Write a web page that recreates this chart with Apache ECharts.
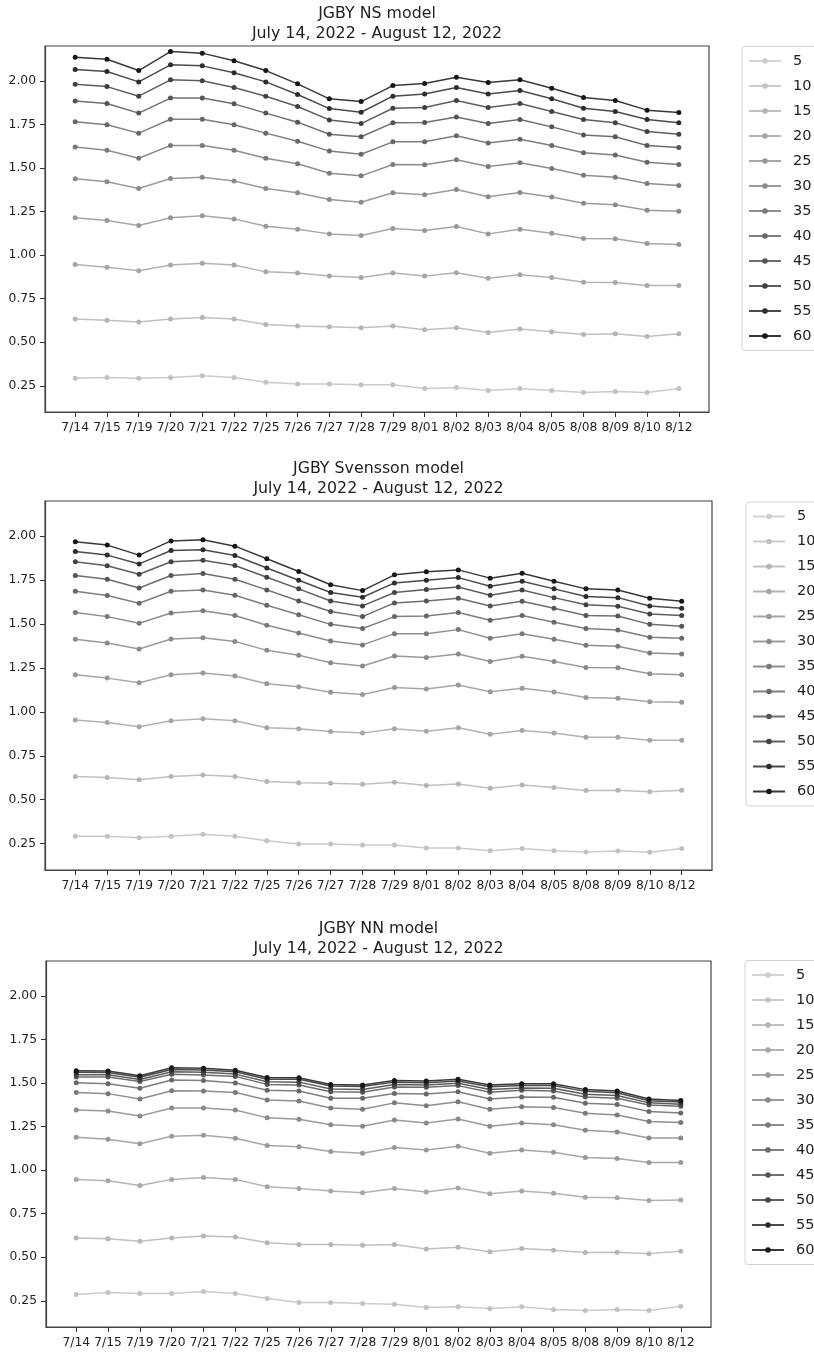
<!DOCTYPE html>
<html><head><meta charset="utf-8">
<script src="https://cdn.jsdelivr.net/npm/echarts@6/dist/echarts.min.js"></script>
<style>html,body{margin:0;padding:0;background:#fff}#c{width:814px;height:1352px}</style>
</head><body><div id="c"></div>
<script>
// ---- categories / ticks ----
const dates = ['7/14','7/15','7/19','7/20','7/21','7/22','7/25','7/26','7/27','7/28','7/29','8/01','8/02','8/03','8/04','8/05','8/08','8/09','8/10','8/12'];
const maturities = ['5','10','15','20','25','30','35','40','45','50','55','60'];
const yTicks = [0.25,0.50,0.75,1.00,1.25,1.50,1.75,2.00];
const titles = ['JGBY NS model','JGBY Svensson model','JGBY NN model'];
const subtitle = 'July 14, 2022 - August 12, 2022';

// ---- JGBY NS model (5-year line lies below the visible range) ----
const ns5  = [];
const ns10 = [0.294,0.298,0.294,0.298,0.308,0.298,0.271,0.260,0.260,0.256,0.256,0.235,0.241,0.224,0.235,0.224,0.212,0.218,0.212,0.235];
const ns15 = [0.633,0.627,0.616,0.633,0.642,0.633,0.602,0.593,0.589,0.583,0.593,0.572,0.583,0.556,0.576,0.560,0.545,0.549,0.533,0.549];
const ns20 = [0.946,0.931,0.910,0.943,0.954,0.943,0.904,0.897,0.881,0.872,0.897,0.880,0.899,0.868,0.887,0.872,0.845,0.843,0.826,0.826];
const ns25 = [1.214,1.199,1.170,1.214,1.226,1.208,1.166,1.149,1.122,1.113,1.153,1.141,1.164,1.122,1.149,1.126,1.096,1.094,1.067,1.061];
const ns30 = [1.438,1.421,1.382,1.440,1.447,1.426,1.382,1.358,1.319,1.304,1.358,1.346,1.377,1.335,1.359,1.333,1.298,1.289,1.258,1.252];
const ns35 = [1.620,1.602,1.556,1.629,1.629,1.602,1.556,1.524,1.470,1.455,1.520,1.518,1.547,1.509,1.530,1.497,1.459,1.447,1.411,1.400];
const ns40 = [1.765,1.748,1.700,1.780,1.780,1.748,1.700,1.654,1.597,1.579,1.650,1.650,1.685,1.644,1.665,1.629,1.587,1.574,1.533,1.520];
const ns45 = [1.885,1.870,1.815,1.901,1.901,1.868,1.815,1.763,1.694,1.679,1.759,1.761,1.793,1.755,1.778,1.736,1.690,1.679,1.629,1.618];
const ns50 = [1.981,1.967,1.912,2.006,2.000,1.962,1.912,1.853,1.776,1.755,1.843,1.847,1.887,1.847,1.870,1.824,1.778,1.759,1.709,1.694];
const ns55 = [2.065,2.054,1.994,2.092,2.086,2.046,1.994,1.922,1.841,1.820,1.912,1.924,1.962,1.924,1.945,1.897,1.843,1.824,1.778,1.759];
const ns60 = [2.136,2.124,2.059,2.168,2.159,2.115,2.059,1.983,1.897,1.881,1.973,1.985,2.021,1.990,2.006,1.958,1.904,1.887,1.832,1.818];

// ---- JGBY Svensson model ----
const sv5  = [];
const sv10 = [0.292,0.292,0.284,0.292,0.303,0.292,0.267,0.248,0.248,0.242,0.242,0.225,0.225,0.210,0.223,0.210,0.203,0.208,0.201,0.223];
const sv15 = [0.632,0.626,0.613,0.632,0.641,0.632,0.603,0.596,0.594,0.588,0.600,0.581,0.590,0.565,0.584,0.569,0.552,0.554,0.545,0.554];
const sv20 = [0.953,0.940,0.915,0.949,0.961,0.949,0.909,0.904,0.888,0.879,0.904,0.890,0.909,0.873,0.894,0.879,0.856,0.856,0.839,0.839];
const sv25 = [1.211,1.192,1.166,1.211,1.221,1.204,1.160,1.143,1.111,1.099,1.139,1.130,1.153,1.115,1.134,1.113,1.082,1.078,1.058,1.054];
const sv30 = [1.413,1.392,1.358,1.415,1.422,1.401,1.350,1.322,1.280,1.261,1.318,1.310,1.329,1.287,1.316,1.286,1.253,1.251,1.217,1.211];
const sv35 = [1.565,1.542,1.504,1.563,1.576,1.548,1.493,1.449,1.403,1.381,1.445,1.445,1.468,1.419,1.445,1.413,1.379,1.373,1.335,1.329];
const sv40 = [1.686,1.662,1.618,1.686,1.694,1.664,1.607,1.553,1.498,1.474,1.542,1.546,1.565,1.521,1.548,1.510,1.474,1.466,1.424,1.419];
const sv45 = [1.776,1.755,1.705,1.776,1.787,1.755,1.694,1.631,1.571,1.542,1.620,1.631,1.647,1.603,1.629,1.590,1.548,1.546,1.498,1.487];
const sv50 = [1.854,1.831,1.783,1.854,1.863,1.833,1.766,1.700,1.631,1.603,1.679,1.696,1.711,1.664,1.694,1.650,1.609,1.601,1.557,1.548];
const sv55 = [1.913,1.892,1.842,1.918,1.922,1.890,1.819,1.749,1.679,1.652,1.734,1.749,1.764,1.715,1.743,1.700,1.656,1.650,1.603,1.590];
const sv60 = [1.968,1.949,1.892,1.973,1.979,1.943,1.871,1.799,1.723,1.690,1.780,1.797,1.808,1.761,1.789,1.743,1.700,1.694,1.647,1.629];

// ---- JGBY NN model ----
const nn5  = [];
const nn10 = [0.286,0.298,0.292,0.292,0.303,0.292,0.263,0.240,0.240,0.235,0.231,0.212,0.216,0.206,0.216,0.200,0.195,0.200,0.195,0.219];
const nn15 = [0.611,0.607,0.592,0.611,0.622,0.616,0.584,0.574,0.574,0.569,0.574,0.548,0.557,0.532,0.550,0.540,0.527,0.529,0.521,0.534];
const nn20 = [0.947,0.939,0.912,0.947,0.958,0.947,0.905,0.895,0.880,0.870,0.895,0.874,0.897,0.864,0.880,0.868,0.844,0.842,0.826,0.828];
const nn25 = [1.189,1.177,1.151,1.195,1.200,1.183,1.141,1.134,1.107,1.097,1.130,1.116,1.137,1.097,1.116,1.103,1.073,1.067,1.044,1.044];
const nn30 = [1.345,1.340,1.311,1.357,1.357,1.345,1.300,1.292,1.260,1.252,1.288,1.271,1.294,1.252,1.271,1.261,1.229,1.219,1.185,1.185];
const nn35 = [1.445,1.439,1.408,1.456,1.454,1.445,1.403,1.397,1.357,1.349,1.386,1.370,1.393,1.349,1.364,1.359,1.326,1.317,1.279,1.273];
const nn40 = [1.502,1.496,1.470,1.517,1.515,1.500,1.458,1.454,1.413,1.412,1.440,1.437,1.450,1.408,1.420,1.418,1.384,1.376,1.336,1.328];
const nn45 = [1.535,1.534,1.508,1.550,1.546,1.538,1.492,1.489,1.450,1.447,1.477,1.475,1.485,1.447,1.458,1.454,1.420,1.412,1.374,1.366];
const nn50 = [1.548,1.547,1.520,1.564,1.561,1.551,1.507,1.505,1.466,1.463,1.491,1.488,1.499,1.463,1.472,1.470,1.436,1.428,1.386,1.378];
const nn55 = [1.561,1.560,1.533,1.578,1.575,1.564,1.522,1.521,1.483,1.480,1.505,1.501,1.512,1.479,1.486,1.486,1.452,1.444,1.398,1.391];
const nn60 = [1.570,1.569,1.542,1.587,1.584,1.573,1.531,1.530,1.492,1.489,1.514,1.511,1.522,1.489,1.496,1.496,1.462,1.454,1.408,1.400];

const panelData = [
  [ns5,ns10,ns15,ns20,ns25,ns30,ns35,ns40,ns45,ns50,ns55,ns60],
  [sv5,sv10,sv15,sv20,sv25,sv30,sv35,sv40,sv45,sv50,sv55,sv60],
  [nn5,nn10,nn15,nn20,nn25,nn30,nn35,nn40,nn45,nn50,nn55,nn60]
];

// ---- styles / layout ----
const colors = ['#cdcdcd','#c2c2c2','#b5b5b5','#a6a6a6','#989898','#8a8a8a','#7a7a7a','#686868','#565656','#424242','#2c2c2c','#161616'];
const layout = [
  {left:45, top:46,  width:664, height:366, legendLeft:742, legendTop:46.5, titleTop:3.5},
  {left:45, top:501, width:667, height:369, legendLeft:746, legendTop:502,  titleTop:459},
  {left:46, top:961, width:665, height:366, legendLeft:745, legendTop:960.5, titleTop:918.5}
];
const FONT = 'DejaVu Sans';
const xIdx = dates.map((d,i)=>i);

const option = {
  animation:false,
  backgroundColor:'#fff',
  title: layout.map((L,pi)=>({
    text: titles[pi] + '\n' + subtitle,
    left: L.left + L.width/2, top: L.titleTop, textAlign:'center', padding:0,
    textStyle:{fontFamily:FONT, fontSize:15.8, fontWeight:'normal', color:'#222', lineHeight:20}
  })),
  legend: layout.map((L,pi)=>({
    data: maturities, orient:'vertical', left:L.legendLeft, top:L.legendTop,
    itemWidth:32, itemHeight:7, itemGap:8, padding:[6,30,6,6],
    borderColor:'#d4d4d4', borderWidth:1, borderRadius:3, backgroundColor:'#fff',
    textStyle:{fontFamily:FONT, fontSize:14.5, color:'#222', lineHeight:17, padding:[0,0,0,7]},
    selectedMode:false
  })),
  grid: layout.map(L=>({left:L.left, top:L.top, width:L.width, height:L.height, show:true, borderColor:'#444', borderWidth:1.2, backgroundColor:'transparent'})),
  xAxis: layout.map((L,pi)=>({
    type:'value', gridIndex:pi, min:-0.95, max:19.95, position:'bottom',
    splitLine:{show:false},
    axisLine:{show:true, onZero:false, lineStyle:{color:'#444', width:1.2}},
    axisTick:{show:true, customValues:xIdx, length:5, lineStyle:{color:'#333', width:1}},
    axisLabel:{customValues:xIdx, formatter:v=>dates[Math.round(v)], fontFamily:FONT, fontSize:12.3, color:'#222', margin:10}
  })),
  yAxis: layout.map((L,pi)=>({
    type:'value', gridIndex:pi, min:0.1, max:2.2, position:'left',
    splitLine:{show:false},
    axisLine:{show:true, onZero:false, lineStyle:{color:'#444', width:1.2}},
    axisTick:{show:true, customValues:yTicks, length:5, lineStyle:{color:'#333', width:1}},
    axisLabel:{customValues:yTicks, formatter:v=>v.toFixed(2), fontFamily:FONT, fontSize:12.3, color:'#222', margin:9}
  })),
  series: []
};

panelData.forEach((arrs,pi)=>{
  arrs.forEach((vals,mi)=>{
    option.series.push({
      type:'line', name:maturities[mi], xAxisIndex:pi, yAxisIndex:pi,
      data: vals.map((v,i)=>[i,v]),
      symbol:'circle', symbolSize:5, showSymbol:true, clip:true,
      itemStyle:{color:colors[mi]},
      lineStyle:{color:colors[mi], width:1.5, opacity:0.85},
      emphasis:{disabled:true}, z:2+mi
    });
  });
});

const chart = echarts.init(document.getElementById('c'), null, {renderer:'canvas'});
chart.setOption(option);
</script>
</body></html>
